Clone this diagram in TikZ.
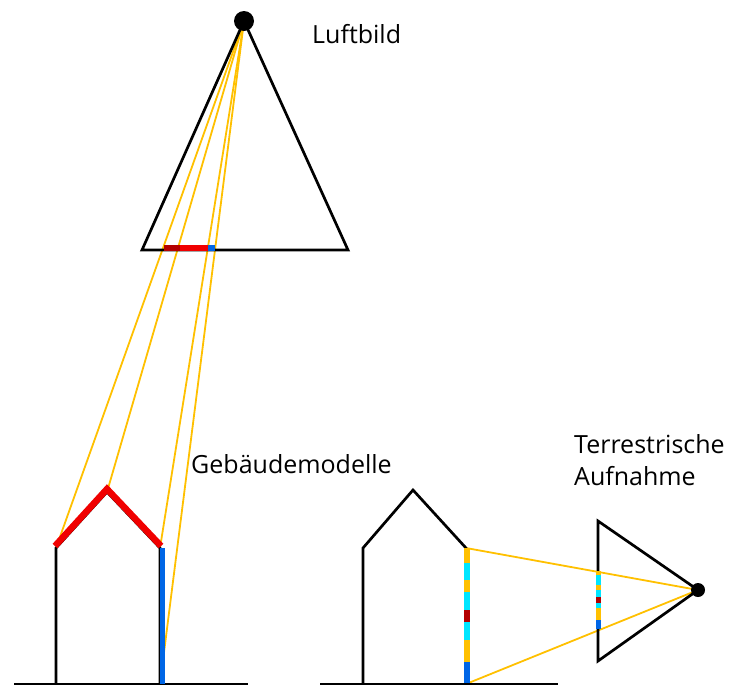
\documentclass[tikz,border=0pt]{standalone}
\usepackage{fontspec}
\setmainfont{Open Sans}
\begin{document}
\begin{tikzpicture}[x=1pt,y=-1pt,
  ray/.style={draw=rayyellow,line width=1.8pt},
  outline/.style={draw=black,line width=2.7pt,line join=miter},
  ground/.style={draw=black,line width=2.7pt},
  label/.style={anchor=base west,inner sep=0pt,font=\fontsize{25}{31}\selectfont,text=black},
  seg/.style={line width=#1,line cap=butt}]
\definecolor{rayyellow}{RGB}{255,192,0}
\definecolor{roofred}{RGB}{240,0,0}
\definecolor{darkred}{RGB}{180,0,0}
\definecolor{wallblue}{RGB}{0,102,230}
\definecolor{facecyan}{RGB}{0,230,255}
\useasboundingbox (0,0) rectangle (731,686);

% --- aerial camera ---
\coordinate (cam) at (244,21);
\coordinate (tl) at (142,250);
\coordinate (tr) at (348,250);

% --- left building ---
\coordinate (lgl) at (14,684);
\coordinate (lgr) at (248,684);
\coordinate (lbl) at (56,684);
\coordinate (lel) at (56,548);
\coordinate (lap) at (107,492);
\coordinate (ler) at (160,548);
\coordinate (lbr) at (160,684);

% --- right building ---
\coordinate (rgl) at (320,684);
\coordinate (rgr) at (558,684);
\coordinate (rbl) at (363,684);
\coordinate (rel) at (363,548);
\coordinate (rap) at (413,490);
\coordinate (rer) at (466,548);
\coordinate (rbr) at (466,684);

% --- terrestrial camera ---
\coordinate (tcam) at (698,590);
\coordinate (st) at (598,521);
\coordinate (sb) at (598,661);

% rays of the aerial image
\draw[ray] (cam) -- (lel);
\draw[ray] (cam) -- (lap);
\draw[ray] (cam) -- (ler);
\draw[ray] (cam) -- (lbr);
% rays of the terrestrial image
\draw[ray] (tcam) -- (rer);
\draw[ray] (tcam) -- (rbr);

% image pyramids
\draw[outline] (cam) -- (tr) -- (tl) -- cycle;
\draw[outline] (tcam) -- (st) -- (sb) -- cycle;

% ground lines
\draw[ground] (lgl) -- (lgr);
\draw[ground] (rgl) -- (rgr);

% building outlines
\draw[outline] (lbl) -- (lel) -- (lap) -- (ler) -- (lbr);
\draw[outline] (rbl) -- (rel) -- (rap) -- (rer) -- (rbr);

% roof and wall as seen from above
\draw[draw=roofred,line width=6.5pt,line join=miter] ([shift={(-1,-2)}]lel) -- ([shift={(0,-3)}]lap) -- ([shift={(1,-2)}]ler);
\draw[draw=wallblue,seg=5pt] (162,548) -- (162,684);

% their image in the aerial photo
\draw[draw=darkred,seg=5.5pt] (164,248) -- (180,248);
\draw[draw=roofred,seg=5.5pt] (180,248) -- (208,248);
\draw[draw=wallblue,seg=5.5pt] (208,248) -- (215,248);

% facade strip seen from the ground
\foreach \a/\b/\c in {548/563/rayyellow,563/580/facecyan,580/592/rayyellow,592/610/facecyan,610/622/darkred,622/640/facecyan,640/662/rayyellow,662/683/wallblue}
  \draw[draw=\c,seg=6pt] (467,\a) -- (467,\b);
% its image in the terrestrial photo
\foreach \a/\b/\c in {571/575/rayyellow,575/585/facecyan,585/590/rayyellow,590/597/facecyan,597/603/darkred,603/608/facecyan,608/620/rayyellow,620/629/wallblue}
  \draw[draw=\c,seg=5pt] (598,\a) -- (598,\b);

% projection centres
\fill[black] (cam) circle (10);
\fill[black] (tcam) circle (7);

% labels
\node[label] (lbl1) at (312,43) {Luftbild};
\node[label] (lbl2) at (191,473) {Gebäudemodelle};
\node[label] (lbl3) at (574,453) {Terrestrische};
\node[label] (lbl4) at (574,485) {Aufnahme};
\end{tikzpicture}
\end{document}
